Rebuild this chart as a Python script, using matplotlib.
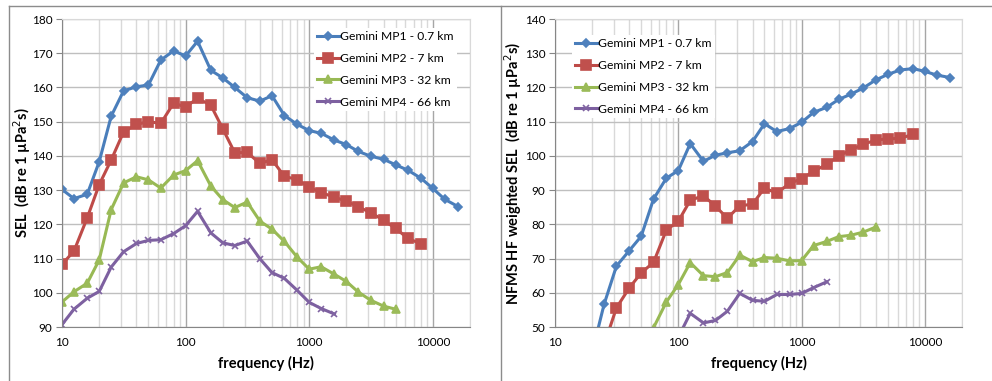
import numpy as np
import matplotlib
matplotlib.use("Agg")
import matplotlib.pyplot as plt
from matplotlib.lines import Line2D
from matplotlib.ticker import FixedLocator, NullFormatter

plt.rcParams['font.family'] = ['Lato', 'DejaVu Sans']

# third-octave band centre frequencies (Hz)
freq = [10, 12.5, 16, 20, 25, 31.5, 40, 50, 63, 80, 100, 125, 160, 200, 250,
        315, 400, 500, 630, 800, 1000, 1250, 1600, 2000, 2500, 3150, 4000,
        5000, 6300, 8000, 10000, 12500, 16000]

labels = ["Gemini MP1 - 0.7 km", "Gemini MP2 - 7 km",
          "Gemini MP3 - 32 km", "Gemini MP4 - 66 km"]

# unweighted SEL
sel_mp1 = [130.2, 127.5, 128.8, 138.3, 151.6, 159.0, 160.2, 160.7, 168.0, 170.7,
           169.2, 173.5, 165.0, 162.8, 160.0, 157.0, 156.0, 157.6, 151.8, 149.2,
           147.4, 146.6, 144.6, 143.3, 141.3, 139.9, 139.0, 137.4, 135.8, 133.5,
           130.5, 127.3, 125.2]
sel_mp2 = [108.3, 112.2, 121.9, 131.6, 138.8, 147.0, 149.2, 150.0, 149.5, 155.4,
           154.3, 156.8, 154.8, 147.9, 140.9, 141.0, 137.8, 138.9, 134.0, 133.1,
           130.8, 129.3, 127.9, 126.8, 125.1, 123.4, 121.2, 118.8, 115.9, 114.3]
sel_mp3 = [97.3, 100.3, 102.8, 109.6, 124.3, 132.1, 133.9, 133.0, 130.6, 134.4,
           135.7, 138.6, 131.2, 127.2, 124.9, 126.5, 120.9, 118.6, 115.0, 110.4,
           106.9, 107.6, 105.4, 103.3, 100.2, 97.8, 96.1, 95.2]
sel_mp4 = [90.7, 95.2, 98.4, 100.4, 107.5, 112.0, 114.4, 115.3, 115.5, 117.3,
           119.6, 123.8, 117.5, 114.6, 113.8, 115.1, 109.9, 105.9, 104.2, 100.7,
           97.2, 95.4, 93.8]

# NMFS HF weighted SEL (first value of each series lies below the axis)
hf_mp1_f = freq[3:]
hf_mp1 = [42.5, 56.6, 67.8, 72.3, 76.5, 87.4, 93.5, 95.7, 103.6, 98.4, 100.2,
          100.9, 101.5, 104.2, 109.4, 107.1, 108.0, 109.8, 112.7, 114.2, 116.5,
          118.0, 119.8, 122.2, 123.8, 125.1, 125.5, 124.7, 123.6, 122.9]
hf_mp2_f = freq[4:30]
hf_mp2 = [44.7, 55.6, 61.4, 65.8, 68.9, 78.3, 80.9, 87.0, 88.4, 85.3, 81.8,
          85.4, 85.9, 90.6, 89.1, 92.0, 93.3, 95.5, 97.5, 100.0, 101.7, 103.4,
          104.6, 105.0, 105.1, 106.3]
hf_mp3_f = freq[7:27]
hf_mp3 = [43.0, 49.8, 57.3, 62.4, 68.8, 65.0, 64.7, 65.9, 71.0, 69.1, 70.3,
          70.1, 69.3, 69.4, 73.8, 75.0, 76.4, 76.8, 77.7, 79.2]
hf_mp4_f = freq[10:23]
hf_mp4 = [47.0, 54.0, 51.2, 51.9, 54.6, 59.8, 57.8, 57.5, 59.5, 59.5, 59.8,
          61.5, 63.2]

line_cols = ['#4A7EBB', '#BE4B48', '#98B954', '#7D60A0']
mark_cols = ['#4F81BD', '#C0504D', '#9BBB59', '#8064A2']
markers = ['D', 's', '^', 'x']
msizes = [4.5, 6.5, 6, 5]

W, H = 992, 381
fig = plt.figure(figsize=(W / 100, H / 100), dpi=100)

# chart area borders
for seg in [((9, 9), (6, H)), ((501, 501), (6, H)), ((9, W), (6, 6))]:
    fig.add_artist(Line2D([x / W for x in seg[0]], [1 - y / H for y in seg[1]],
                          color='#8C8C8C', lw=1))


def setup(ax, ylim, ylabel, label_x):
    ax.set_xscale('log')
    ax.set_xlim(10, 20000)
    ax.set_ylim(*ylim)
    ax.set_yticks(np.arange(ylim[0], ylim[1] + 1, 10))
    ax.xaxis.set_major_locator(FixedLocator([10, 100, 1000, 10000]))
    ax.set_xticklabels(['10', '100', '1000', '10000'])
    minors = [m * d for d in [10, 100, 1000, 10000] for m in range(2, 10)]
    ax.xaxis.set_minor_locator(FixedLocator(minors))
    ax.xaxis.set_minor_formatter(NullFormatter())
    ax.grid(which='minor', axis='x', color='#D9D9D9', lw=1)
    ax.grid(which='major', axis='x', color='#A6A6A6', lw=1)
    ax.grid(which='major', axis='y', color='#BFBFBF', lw=1)
    ax.set_axisbelow(True)
    for s in ['top', 'right']:
        ax.spines[s].set_color('#D9D9D9')
    for s in ['left', 'bottom']:
        ax.spines[s].set_color('#868686')
    ax.tick_params(axis='y', which='major', length=4, color='#868686',
                   labelsize=8.5, pad=3)
    ax.tick_params(axis='x', which='both', length=0, labelsize=8.5, pad=7)
    ax.set_xlabel('frequency (Hz)', fontweight='bold', fontsize=10.5,
                  labelpad=6)
    ax.set_ylabel(ylabel, fontweight='bold', fontsize=10.5)
    ax.yaxis.set_label_coords(label_x, 0.5)


def draw(ax, xs, ys):
    for i, (x, y) in enumerate(zip(xs, ys)):
        ax.plot(x, y, color=line_cols[i], lw=2.2, marker=markers[i],
                ms=msizes[i], mfc=mark_cols[i], mec=mark_cols[i], mew=1.2,
                label=labels[i])


def add_legend(ax, anchor):
    ax.legend(loc='upper left', bbox_to_anchor=anchor,
              frameon=True, fancybox=False, edgecolor='none',
              facecolor='white', framealpha=1, fontsize=8.7,
              handlelength=1.8, handletextpad=0.1, labelspacing=0.9,
              borderaxespad=0, borderpad=0.25)


ax1 = fig.add_axes([62 / W, 54 / H, (470 - 62) / W, (327 - 19) / H])
setup(ax1, (90, 180), 'SEL  (dB re 1 µPa$^2$s)', -0.07)
draw(ax1, [freq[:33], freq[:30], freq[:28], freq[:23]],
     [sel_mp1, sel_mp2, sel_mp3, sel_mp4])
add_legend(ax1, (0.618, 0.971))

ax2 = fig.add_axes([555 / W, 54 / H, (962 - 555) / W, (327 - 19) / H])
setup(ax2, (50, 140), 'NFMS HF weighted SEL  (dB re 1 µPa$^2$s)', -0.075)
draw(ax2, [hf_mp1_f, hf_mp2_f, hf_mp3_f, hf_mp4_f],
     [hf_mp1, hf_mp2, hf_mp3, hf_mp4])
add_legend(ax2, (0.042, 0.948))

fig.savefig('out.png', dpi=100)
